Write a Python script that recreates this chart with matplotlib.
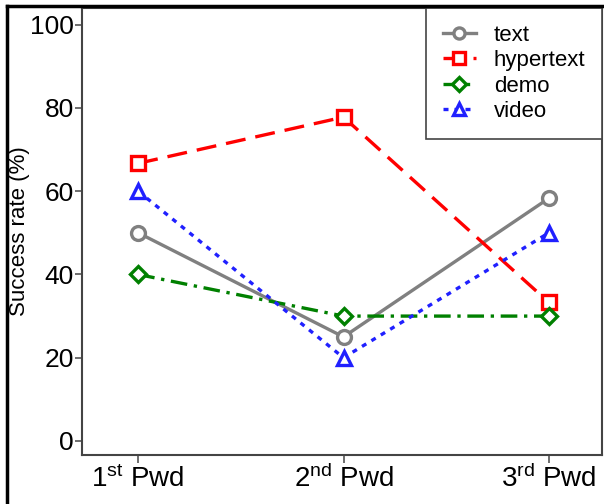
import numpy as np
import matplotlib.pyplot as plt
from matplotlib.lines import Line2D

plt.rcParams['font.family'] = ['Liberation Sans', 'DejaVu Sans']
plt.rcParams['mathtext.default'] = 'regular'

# data
pwd = [1, 2, 3]
pwd_labels = ['1$^{st}$ Pwd', '2$^{nd}$ Pwd', '3$^{rd}$ Pwd']
text = [50, 25, 58.3]
hypertext = [66.7, 77.8, 33.3]
demo = [40, 30, 30]
video = [60, 20, 50]

fig = plt.figure(figsize=(6.04, 5.04), dpi=100)
ax = fig.add_axes([0.136, 0.097, 0.861, 0.887])

kw = dict(lw=2.4, ms=10, mew=2.4, mfc='white')
ax.plot(pwd, text, color='#808080', ls='-', marker='o', label='text', **kw)
ax.plot(pwd, hypertext, color='#ff0000', ls=(0, (6, 3)), marker='s', label='hypertext', **kw)
ax.plot(pwd, demo, color='#008000', ls=(0, (5, 2, 1, 2)), marker='D', label='demo',
        lw=2.4, ms=8.5, mew=2.4, mfc='white')
ax.plot(pwd, video, color='#2020ff', ls=(0, (1.5, 1.8)), marker='^', label='video', **kw)

ax.set_xlim(0.727, 3.26)
ax.set_ylim(-3.4, 104)
ax.set_yticks([0, 20, 40, 60, 80, 100])
ax.set_xticks(pwd)
ax.set_xticklabels(pwd_labels, fontsize=20)
ax.tick_params(axis='y', labelsize=19, length=5, width=1.2, color='#555555', pad=1)
ax.tick_params(axis='x', length=6, width=1.2, color='#555555', pad=1)
ax.set_ylabel('Success rate (%)', fontsize=16, labelpad=0)
for s in ax.spines.values():
    s.set_color('#444444')
    s.set_linewidth(1.5)

leg = ax.legend(loc='upper right', fontsize=16, fancybox=False, framealpha=1,
                edgecolor='#444444', handlelength=1.5, handletextpad=0.8,
                borderpad=0.75, labelspacing=0.2, borderaxespad=0.0, markerscale=0.8)
leg.get_frame().set_linewidth(1.2)

# figure border
fig.add_artist(Line2D([7/604, 7/604], [0, 1-6/504], transform=fig.transFigure, color='black', lw=2.5))
fig.add_artist(Line2D([7/604, 1], [1-6/504, 1-6/504], transform=fig.transFigure, color='black', lw=2.5))

fig.savefig('out.png', dpi=100)
